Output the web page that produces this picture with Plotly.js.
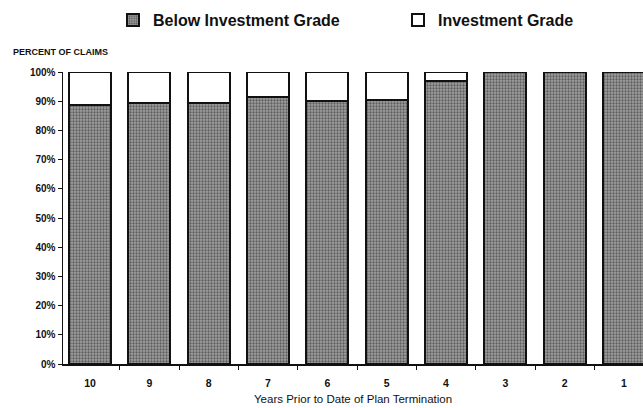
<!DOCTYPE html>
<html>
<head>
<meta charset="utf-8">
<script src="https://cdn.plot.ly/plotly-3.0.1.min.js"></script>
<style>html,body{margin:0;padding:0;background:#fff;}#chart{width:643px;height:408px;}</style>
</head>
<body>
<div id="chart"></div>
<script>
const years = ["10", "9", "8", "7", "6", "5", "4", "3", "2", "1"];
const belowInvestment = [88.6, 89.4, 89.3, 91.4, 90.2, 90.3, 97.0, 100, 100, 100];
const investment = [11.4, 10.6, 10.7, 8.6, 9.8, 9.7, 3.0, 0, 0, 0];
const yTickVals = [0, 10, 20, 30, 40, 50, 60, 70, 80, 90, 100];
const yTickText = ["0%", "10%", "20%", "30%", "40%", "50%", "60%", "70%", "80%", "90%", "100%"];

const font = "Liberation Sans, Arial, sans-serif";
const data = [
  {
    type: "bar", name: "Below Investment Grade", x: years, y: belowInvestment, legend: "legend",
    marker: {color: "#8a8a8a", line: {color: "#111", width: 2},
             pattern: {shape: ".", fgcolor: "#5e5e5e", bgcolor: "#a0a0a0", size: 3, solidity: 0.45}}
  },
  {
    type: "bar", name: "Investment Grade", x: years, y: investment, legend: "legend2",
    marker: {color: "#ffffff", line: {color: "#111", width: 2}}
  }
];
const legendBase = {
  orientation: "h", xref: "container", yref: "container",
  y: 1 - 3/408, xanchor: "left", yanchor: "top",
  font: {family: font, size: 16, color: "#111", weight: "bold"},
  itemwidth: 30, bgcolor: "rgba(0,0,0,0)"
};
const layout = {
  width: 643, height: 408,
  margin: {l: 63, r: 0, t: 72, b: 44},
  paper_bgcolor: "#fff", plot_bgcolor: "#fff",
  barmode: "stack", bargap: 0.29,
  font: {family: font, color: "#111"},
  showlegend: true,
  legend: Object.assign({}, legendBase, {x: 113/643}),
  legend2: Object.assign({}, legendBase, {x: 398/643}),
  xaxis: {
    type: "category", range: [-0.455, 9.32],
    showline: true, linecolor: "#111", linewidth: 1.5,
    ticks: "outside", tickson: "boundaries", ticklen: 4, tickcolor: "#111",
    ticklabelstandoff: 9,
    showgrid: false, zeroline: false,
    tickfont: {family: font, size: 10.5, weight: "bold", color: "#111"}
  },
  yaxis: {
    range: [0, 100], tickvals: yTickVals, ticktext: yTickText,
    showline: true, linecolor: "#111", linewidth: 1.5,
    ticks: "outside", ticklen: 4, tickcolor: "#111",
    showgrid: false, zeroline: false,
    tickfont: {family: font, size: 10, weight: "bold", color: "#111"}
  },
  annotations: [
    {
      text: "PERCENT OF CLAIMS", xref: "paper", yref: "paper",
      x: -52/580, y: 1.0 + 20/292, xanchor: "left", yanchor: "middle", showarrow: false,
      font: {family: font, size: 9, weight: "bold", color: "#111"}
    },
    {
      text: "Years Prior to Date of Plan Termination", xref: "paper", yref: "paper",
      x: 0.5, y: -35/292, xanchor: "center", yanchor: "middle", showarrow: false,
      font: {family: font, size: 11.5, color: "#111"}
    }
  ]
};
Plotly.newPlot("chart", data, layout, {displayModeBar: false, staticPlot: true});
</script>
</body>
</html>
